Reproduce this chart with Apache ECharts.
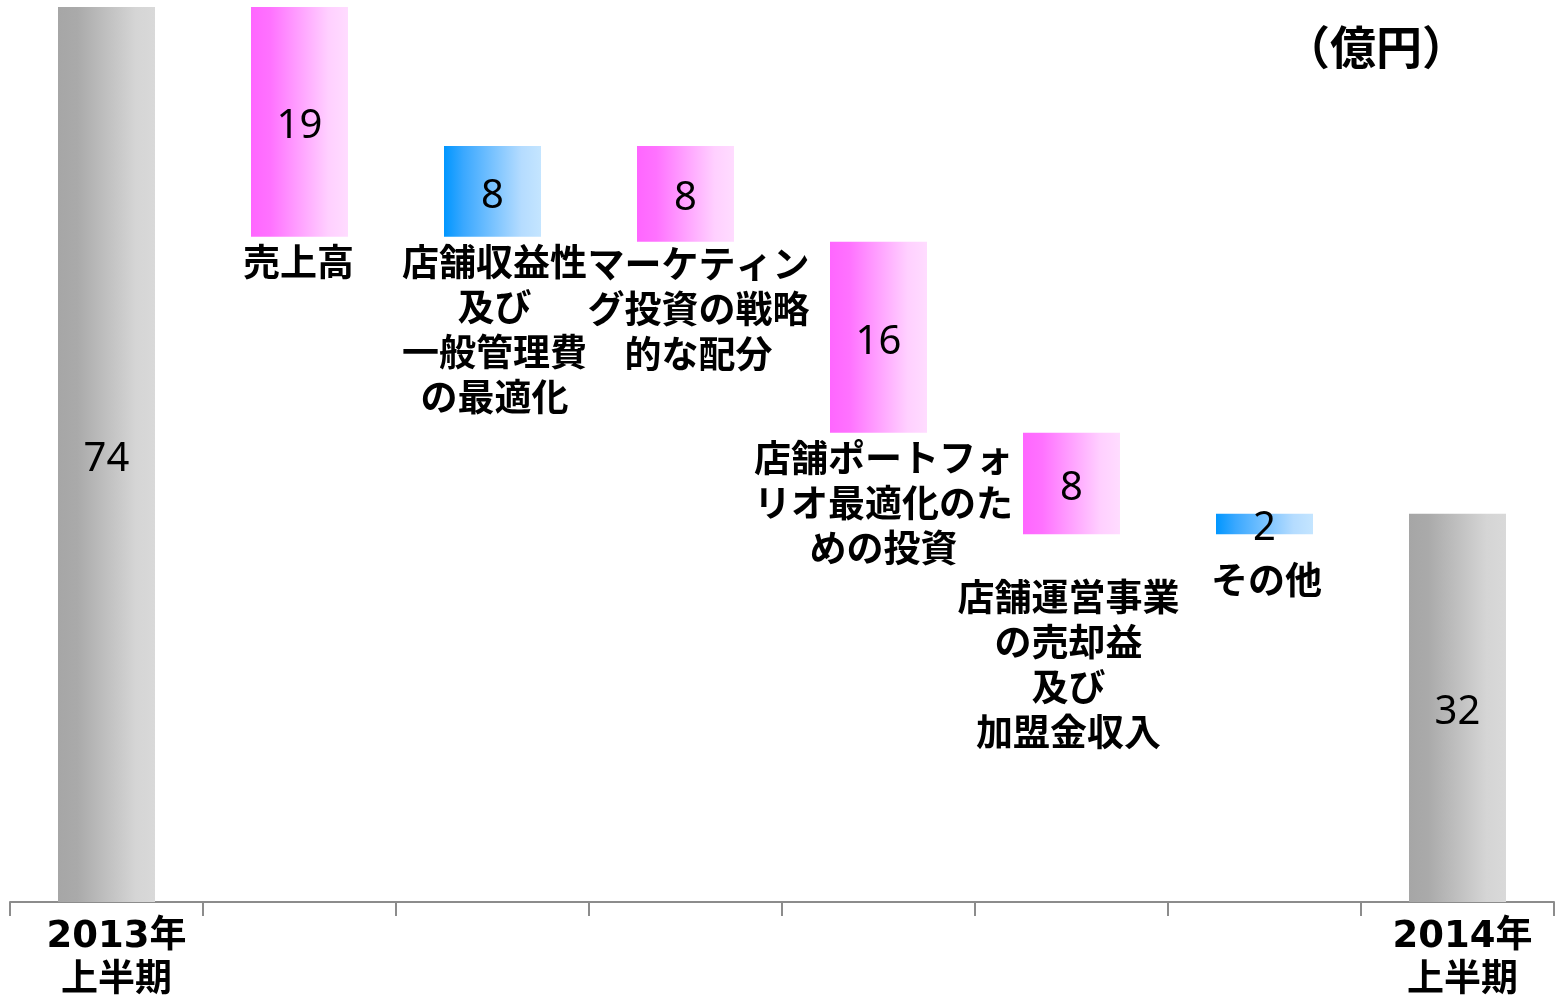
<!DOCTYPE html>
<html>
<head>
<meta charset="utf-8">
<script src="https://cdn.jsdelivr.net/npm/echarts@6/dist/echarts.min.js"></script>
<style>
html,body{margin:0;padding:0;background:#fff;}
#chart{width:1555px;height:999px;}
</style>
</head>
<body>
<div id="chart"></div>
<script>
// ---- data ----
const categories = [
  '2013年\n上半期',
  '売上高',
  '店舗収益性\n及び\n一般管理費\nの最適化',
  'マーケティン\nグ投資の戦略\n的な配分',
  '店舗ポートフォ\nリオ最適化のた\nめの投資',
  '店舗運営事業\nの売却益\n及び\n加盟金収入',
  'その他',
  '2014年\n上半期'
];
const kinds = ['total', 'down', 'up', 'down', 'down', 'down', 'up', 'total'];
const baseValues = [0, 55.0, 55.0, 54.6, 38.8, 30.4, 30.4, 0];
const barValues = [74, 19.0, 7.5, 7.9, 15.8, 8.4, 1.7, 32.1];
const valueLabels = ['74', '19', '8', '8', '16', '8', '2', '32'];
const unitLabel = '（億円）';

// ---- layout (label placement) ----
const nameLabelDistance = [0, 3, 3, 0, 3, 40, 23, 0];
const nameLabelOffsetX = [0, -1, 2, 13, 5, -3, 2, 0];
const axisLabelPadLeft = [20, 0, 0, 0, 0, 0, 0, 10];

const gradients = {
  total: ['#a6a6a6', '#aaaaaa', '#d5d5d5', '#d9d9d9'],
  down: ['#ff66ff', '#ff72ff', '#ffd0ff', '#ffdcff'],
  up: ['#0096ff', '#3aa8ff', '#b5dcff', '#c4e5ff']
};
function grad(k) {
  const c = gradients[k];
  return {
    type: 'linear', x: 0, y: 0, x2: 1, y2: 0,
    colorStops: [
      { offset: 0, color: c[0] },
      { offset: 0.2, color: c[1] },
      { offset: 0.8, color: c[2] },
      { offset: 1, color: c[3] }
    ]
  };
}

const chart = echarts.init(document.getElementById('chart'), null, { renderer: 'canvas' });
const n = categories.length;
const cjk = '"Noto Sans CJK JP", sans-serif';

chart.setOption({
  backgroundColor: '#ffffff',
  animation: false,
  grid: { left: 10, right: 1, top: 7, bottom: 97, containLabel: false, outerBoundsMode: 'none' },
  xAxis: {
    type: 'category',
    data: categories.map((c, i) => ({
      value: c,
      textStyle: { padding: [0, 0, 0, axisLabelPadLeft[i]] }
    })),
    boundaryGap: true,
    axisLine: { show: true, lineStyle: { color: '#8c8c8c', width: 2 } },
    axisTick: { show: true, length: 14, lineStyle: { color: '#8c8c8c', width: 2 } },
    axisLabel: {
      interval: 0,
      margin: 13,
      color: '#000',
      fontSize: 37,
      fontWeight: 'bold',
      lineHeight: 44,
      fontFamily: '"DejaVu Sans", "Noto Sans CJK JP", sans-serif',
      formatter: function (v, i) { return (i === 0 || i === n - 1) ? v : ''; }
    }
  },
  yAxis: {
    type: 'value', min: 0, max: 74, show: false,
    splitLine: { show: false }
  },
  graphic: [{
    type: 'text',
    left: 1284, top: 24,
    style: {
      text: unitLabel,
      fill: '#000',
      font: 'bold 46px "Noto Sans CJK JP", sans-serif'
    }
  }],
  series: [
    {
      name: 'base',
      type: 'bar',
      stack: 'w',
      barWidth: 97,
      itemStyle: { color: 'rgba(0,0,0,0)' },
      silent: true,
      data: baseValues.map((v, i) => ({
        value: v,
        label: {
          show: kinds[i] !== 'total',
          position: 'insideTop',
          distance: nameLabelDistance[i],
          offset: [nameLabelOffsetX[i], 0],
          formatter: () => categories[i],
          color: '#000',
          fontSize: 37,
          fontWeight: 'bold',
          lineHeight: 45,
          fontFamily: cjk,
          align: 'center'
        }
      }))
    },
    {
      name: 'value',
      type: 'bar',
      stack: 'w',
      barWidth: 97,
      data: barValues.map((v, i) => ({
        value: v,
        itemStyle: { color: grad(kinds[i]) }
      })),
      label: {
        show: true,
        position: 'inside',
        offset: [0, 5],
        color: '#000',
        fontSize: 40,
        fontFamily: '"Noto Sans", sans-serif',
        formatter: p => valueLabels[p.dataIndex]
      }
    }
  ]
});
</script>
</body>
</html>
